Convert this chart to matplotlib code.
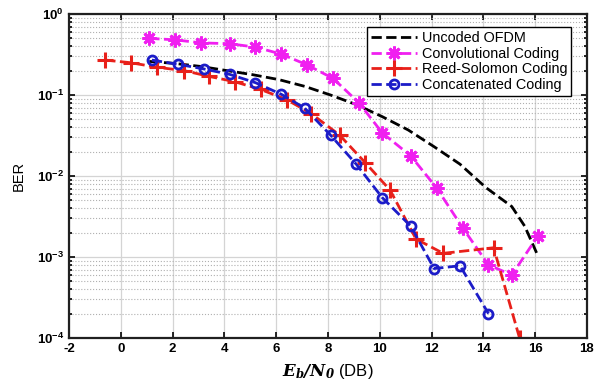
import matplotlib
matplotlib.use("Agg")
import matplotlib.pyplot as plt
import numpy as np
from matplotlib.ticker import LogLocator, NullFormatter, FixedLocator

plt.rcParams['font.family'] = ['Liberation Sans', 'DejaVu Sans']
plt.rcParams['mathtext.fontset'] = 'dejavuserif'

# Uncoded OFDM
unc_x = [1.1, 2.1, 3.1, 4.1, 5.1, 6.1, 7.1, 8.1, 9.1, 10.1, 11.1, 12.1, 13.1, 14.1, 15.1, 15.6, 16.1]
unc_y = [0.26, 0.245, 0.225, 0.2, 0.178, 0.155, 0.128, 0.1, 0.076, 0.054, 0.037, 0.023, 0.014,
         0.0072, 0.0042, 0.0024, 0.00105]

# Convolutional coding
conv_x = [1.1, 2.1, 3.1, 4.2, 5.2, 6.2, 7.2, 8.2, 9.2, 10.1, 11.2, 12.2, 13.2, 14.2, 15.1, 16.1]
conv_y = [0.50, 0.48, 0.44, 0.43, 0.39, 0.32, 0.235, 0.16, 0.080, 0.034, 0.0177, 0.0071,
          0.0023, 0.00080, 0.00060, 0.0018]

# Reed-Solomon coding
rs_x = [-0.6, 0.4, 1.4, 2.45, 3.4, 4.4, 5.4, 6.4, 7.35, 8.45, 9.45, 10.4, 11.4, 12.45, 14.4, 15.4]
rs_y = [0.27, 0.25, 0.22, 0.20, 0.17, 0.146, 0.117, 0.088, 0.059, 0.032, 0.0145, 0.0067,
        0.00167, 0.00111, 0.00130, 0.0001]

# Concatenated coding
cc_x = [1.2, 2.2, 3.2, 4.2, 5.2, 6.2, 7.1, 8.1, 9.1, 10.1, 11.2, 12.1, 13.1, 14.2]
cc_y = [0.27, 0.24, 0.21, 0.18, 0.142, 0.102, 0.069, 0.032, 0.0139, 0.0054, 0.0024,
        0.00072, 0.00078, 0.0002]

labels = ['Uncoded OFDM', 'Convolutional Coding', 'Reed-Solomon Coding', 'Concatenated Coding']
xticks = [-2, 0, 2, 4, 6, 8, 10, 12, 14, 16, 18]

fig = plt.figure(figsize=(5.98, 3.87), dpi=100)
ax = fig.add_axes([0.1154, 0.1266, 0.866, 0.8372])

lw = 2.0
ax.semilogy(unc_x, unc_y, color='black', ls='--', lw=lw, label=labels[0])
ax.semilogy(conv_x, conv_y, color='#f020f0', ls='--', lw=lw, marker=(8, 2, 0),
            ms=10, mew=2.0, label=labels[1])
ax.semilogy(rs_x, rs_y, color='#e8201a', ls='--', lw=lw, marker='+',
            ms=11, mew=2.2, label=labels[2])
ax.semilogy(cc_x, cc_y, color='#1c1cc8', ls='--', lw=lw, marker='o',
            ms=6.5, mew=2.0, mfc='none', label=labels[3])

ax.set_xlim(-2, 18)
ax.set_ylim(1e-4, 1)
ax.xaxis.set_major_locator(FixedLocator(xticks))
ax.set_xticklabels([str(t) for t in xticks], fontweight='bold', fontsize=9.5)
ax.yaxis.set_major_locator(LogLocator(base=10, numticks=10))
ax.yaxis.set_minor_locator(LogLocator(base=10, subs=np.arange(2, 10), numticks=20))
ax.yaxis.set_minor_formatter(NullFormatter())
for lab in ax.get_yticklabels():
    lab.set_fontweight('bold')
    lab.set_fontsize(9.5)

ax.grid(True, which='major', color='#d4d4d4', lw=0.9, ls='-')
ax.grid(True, which='minor', axis='y', color='#b0b0b0', lw=0.8, ls=':')
ax.set_axisbelow(True)

ax.tick_params(which='both', direction='in', top=True, right=True, width=1.2)
ax.tick_params(which='major', length=4)
ax.tick_params(which='minor', length=2)
for s in ax.spines.values():
    s.set_linewidth(1.6)
    s.set_color('#202020')

ax.set_ylabel('BER', fontsize=10.5, labelpad=8)
ax.set_xlabel(r'$\mathbfit{E_b/N_0}$ (DB)', fontsize=12, labelpad=5)

leg = ax.legend(loc='upper right', bbox_to_anchor=(0.97, 0.96), borderaxespad=0,
                fontsize=10.4, handlelength=3.2, frameon=True, fancybox=False, framealpha=1,
                edgecolor='black', borderpad=0.3, labelspacing=0.1, handletextpad=0.3)
leg.get_frame().set_linewidth(1.0)

fig.savefig('out.png', dpi=100)
